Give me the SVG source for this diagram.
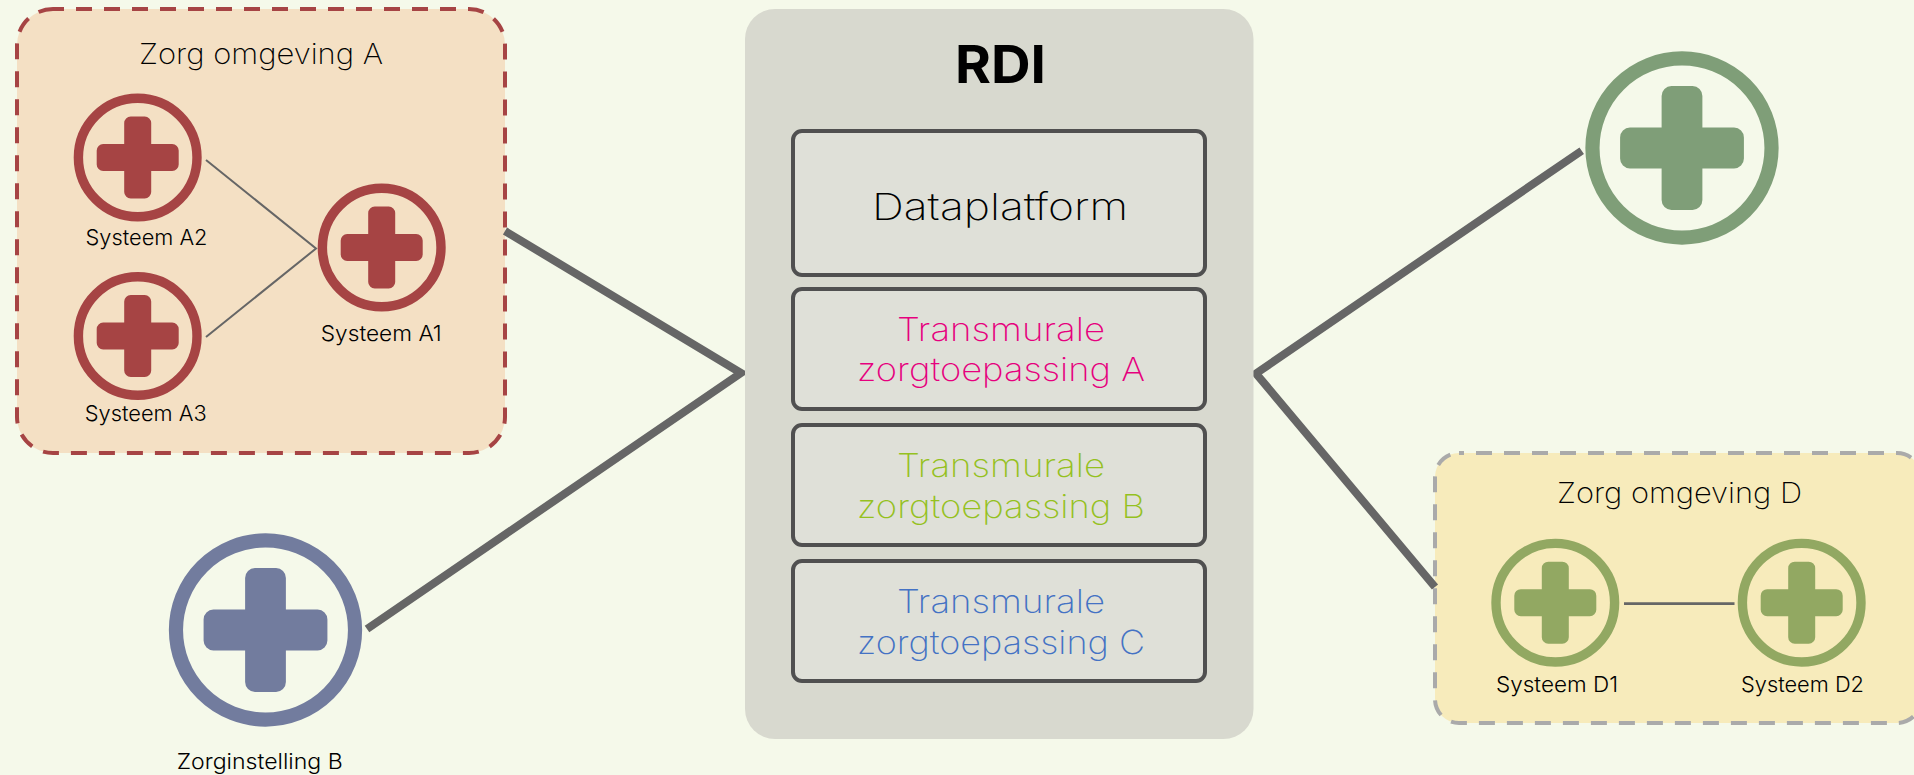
<svg xmlns="http://www.w3.org/2000/svg" width="1914" height="775" viewBox="0 0 1914 775">
<style>
text{font-family:Inter,"Open Sans",sans-serif;font-weight:300;fill:#000;text-anchor:middle}
.sm{font-size:22px}
.md{font-size:29px;font-weight:200}
.lg{font-size:37px;font-weight:200}
.tr{font-size:33px;font-weight:200}
.pink{fill:#e6007e}
.lime{fill:#95c11f}
.blue{fill:#4472c4}
.thick{stroke:#666;stroke-width:8;fill:none}
.thin{stroke:#666;stroke-width:2;fill:none}
.thin3{stroke:#666;stroke-width:2.700;fill:none}
.box{fill:#dfe0d8;stroke:#505050;stroke-width:4}
.zone{stroke-width:4;stroke-dasharray:16 12}
.ring{fill:none;stroke-width:9.400}
.red{fill:#a64444;stroke:#a64444}
.sl{fill:#727c9e;stroke:#727c9e}
.sage{fill:#7f9e78;stroke:#7f9e78}
.olive{fill:#92a862;stroke:#92a862}
.lbl{stroke:none;fill:#000}
</style>
<defs>
<g id="ic"><path stroke="none" d="M-7-41h14a6.500 6.500 0 0 1 6.500 6.500V-13.500H34.500a6.500 6.500 0 0 1 6.500 6.500V7a6.500 6.500 0 0 1-6.500 6.500H13.500V34.500a6.500 6.500 0 0 1-6.500 6.500H-7a6.500 6.500 0 0 1-6.500-6.500V13.500H-34.500a6.500 6.500 0 0 1-6.500-6.500V-7a6.500 6.500 0 0 1 6.500-6.500H-13.500V-34.500a6.500 6.500 0 0 1 6.500-6.500z"/><circle class="ring" r="59.300"/></g>
</defs>
<rect width="1914" height="775" fill="#f5f9ea"/>
<g id="zorg-a">
<rect class="zone" x="17" y="9" width="488" height="444" rx="36" fill="#f4e0c4" stroke="#a64444" stroke-dashoffset="5"/>
<text class="md" x="261" y="63.500" textLength="244" lengthAdjust="spacingAndGlyphs">Zorg omgeving A</text>
</g>
<g id="zorg-d">
<rect class="zone" x="1435" y="453" width="486" height="270" rx="24" fill="#f7ebbb" stroke="#aaa" stroke-dashoffset="11"/>
<text class="md" x="1679.500" y="503" textLength="245" lengthAdjust="spacingAndGlyphs">Zorg omgeving D</text>
</g>
<g id="connectors">
<path class="thick" d="M505 231L741 373L367 629"/>
<path class="thick" d="M1581.700 150.700L1256 373.500L1435 587"/>
<path class="thin" d="M206 160L316 248.500L206 337"/>
<path class="thin3" d="M1624 603.700H1734.500"/>
</g>
<g id="systeem-a2" class="red"><use href="#ic" x="137.700" y="157.500"/><text class="sm lbl" x="146.500" y="245" textLength="122" lengthAdjust="spacingAndGlyphs">Systeem A2</text></g>
<g id="systeem-a3" class="red"><use href="#ic" x="137.700" y="336"/><text class="sm lbl" x="145.700" y="421" textLength="122" lengthAdjust="spacingAndGlyphs">Systeem A3</text></g>
<g id="systeem-a1" class="red"><use href="#ic" x="381.700" y="247.500"/><text class="sm lbl" x="381.300" y="340.700" textLength="121" lengthAdjust="spacingAndGlyphs">Systeem A1</text></g>
<g id="zorginstelling-b" class="sl"><use href="#ic" transform="translate(265.500 630) scale(1.510)"/><text class="sm lbl" x="259.700" y="769.300" textLength="166" lengthAdjust="spacingAndGlyphs">Zorginstelling B</text></g>
<g id="rdi">
<rect x="745" y="9" width="508.500" height="730" rx="30" fill="#d8d9cf"/>
<text x="1000.500" y="82.500" textLength="91" lengthAdjust="spacingAndGlyphs" style="font-size:52px;font-weight:700">RDI</text>
</g>
<g id="dataplatform"><rect class="box" x="793" y="131" width="412" height="144" rx="9"/><text class="lg" x="1000" y="220" textLength="256" lengthAdjust="spacingAndGlyphs">Dataplatform</text></g>
<g id="toepassing-a"><rect class="box" x="793" y="289" width="412" height="120" rx="9"/><text class="tr pink"><tspan x="1001" y="340.500" textLength="208" lengthAdjust="spacingAndGlyphs">Transmurale</tspan><tspan x="1001" y="381" textLength="288" lengthAdjust="spacingAndGlyphs">zorgtoepassing A</tspan></text></g>
<g id="toepassing-b"><rect class="box" x="793" y="425" width="412" height="120" rx="9"/><text class="tr lime"><tspan x="1001" y="477" textLength="208" lengthAdjust="spacingAndGlyphs">Transmurale</tspan><tspan x="1001" y="517.500" textLength="288" lengthAdjust="spacingAndGlyphs">zorgtoepassing B</tspan></text></g>
<g id="toepassing-c"><rect class="box" x="793" y="561" width="412" height="120" rx="9"/><text class="tr blue"><tspan x="1001" y="613.300" textLength="208" lengthAdjust="spacingAndGlyphs">Transmurale</tspan><tspan x="1001" y="654" textLength="288" lengthAdjust="spacingAndGlyphs">zorgtoepassing C</tspan></text></g>
<g id="zorginstelling-c" class="sage"><use href="#ic" transform="translate(1682 148) scale(1.510)"/></g>
<g id="systeem-d1" class="olive"><use href="#ic" x="1555.300" y="602.700"/><text class="sm lbl" x="1557" y="691.700" textLength="122" lengthAdjust="spacingAndGlyphs">Systeem D1</text></g>
<g id="systeem-d2" class="olive"><use href="#ic" x="1801.700" y="602.700"/><text class="sm lbl" x="1802.500" y="691.700" textLength="123" lengthAdjust="spacingAndGlyphs">Systeem D2</text></g>
</svg>
